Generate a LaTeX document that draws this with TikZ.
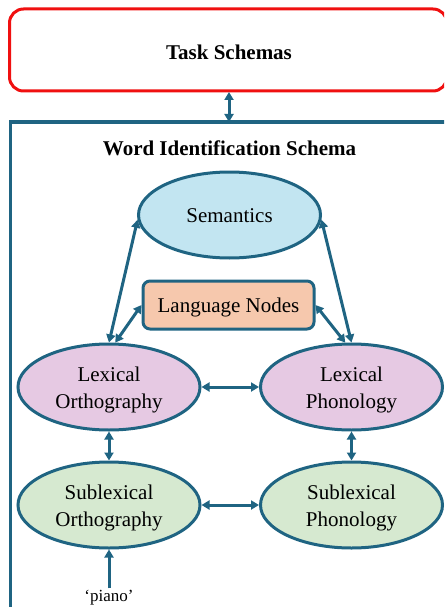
\documentclass[tikz,border=0pt]{standalone}
\usepackage{fontspec}
\setmainfont{Liberation Serif}
\usetikzlibrary{shapes.geometric,arrows.meta}

\definecolor{linkblue}{HTML}{1F6482}
\definecolor{taskred}{HTML}{F01010}
\definecolor{semfill}{HTML}{C2E5F1}
\definecolor{lexfill}{HTML}{E6C9E3}
\definecolor{subfill}{HTML}{D6E9D0}
\definecolor{langfill}{HTML}{F6C8AD}

% lowered, centred label text (one or more lines)
\newcommand\dn[1]{\raisebox{-2.5pt}[\height][\depth]{\begin{tabular}{@{}c@{}}#1\end{tabular}}}

\tikzset{
  every node/.style={font=\fontsize{21}{27}\selectfont},
  schemabox/.style={draw=linkblue, line width=3pt, ellipse, inner sep=0pt,
    minimum width=182pt, minimum height=86pt},
  langbox/.style={draw=linkblue, line width=3pt, rounded corners=7pt,
    fill=langfill, minimum width=171pt, minimum height=48pt, inner sep=0pt},
  link/.style={draw=linkblue, line width=3pt,
    {Triangle[length=8pt,width=9pt]}-{Triangle[length=8pt,width=9pt]}},
  feed/.style={draw=linkblue, line width=3pt, -{Triangle[length=8pt,width=9pt]}}
}

\begin{document}
\begin{tikzpicture}[x=1pt,y=-1pt]
  \useasboundingbox (0,0) rectangle (444,607);
  \clip (0,0) rectangle (444,607);

  % outer frames
  \draw[taskred, line width=3pt, rounded corners=14pt] (9.5,9) rectangle (447,91);
  \node[font=\fontsize{21}{27}\selectfont\bfseries] (task) at (229,52) {Task Schemas};
  \draw[linkblue, line width=3pt] (10,122) rectangle (470,640);
  \node[font=\fontsize{21}{27}\selectfont\bfseries] (wis) at (229.5,148) {Word Identification Schema};

  \coordinate (taskbot) at (229,92);
  \coordinate (wistop) at (229,122);
  \draw[link] (taskbot) -- (wistop);

  % component nodes
  \node[schemabox, fill=semfill] (sem) at (229.5,215) {\dn{Semantics}};
  \node[langbox] (lang) at (228.5,305) {\dn{Language Nodes}};
  \node[schemabox, fill=lexfill] (lexo) at (109,387) {\dn{Lexical\\Orthography}};
  \node[schemabox, fill=lexfill] (lexp) at (351.5,387) {\dn{Lexical\\Phonology}};
  \node[schemabox, fill=subfill] (subo) at (109,505) {\dn{Sublexical\\Orthography}};
  \node[schemabox, fill=subfill] (subp) at (351.5,505) {\dn{Sublexical\\Phonology}};
  \node[font=\fontsize{17}{20}\selectfont, inner sep=2pt] (word) at (109,598) {‘piano’};

  % connections
  \draw[link] (sem.183) -- (lexo.90);
  \draw[link] (sem.357) -- (lexp.90);
  \draw[link] (lang.west) -- (lexo.82);
  \draw[link] (lang.east) -- (lexp.98);
  \draw[link] (lexo.east) -- (lexp.west);
  \draw[link] (subo.east) -- (subp.west);
  \draw[link] (lexo.south) -- (subo.north);
  \draw[link] (lexp.south) -- (subp.north);
  \draw[feed] (word.north) -- (subo.south);
\end{tikzpicture}
\end{document}
